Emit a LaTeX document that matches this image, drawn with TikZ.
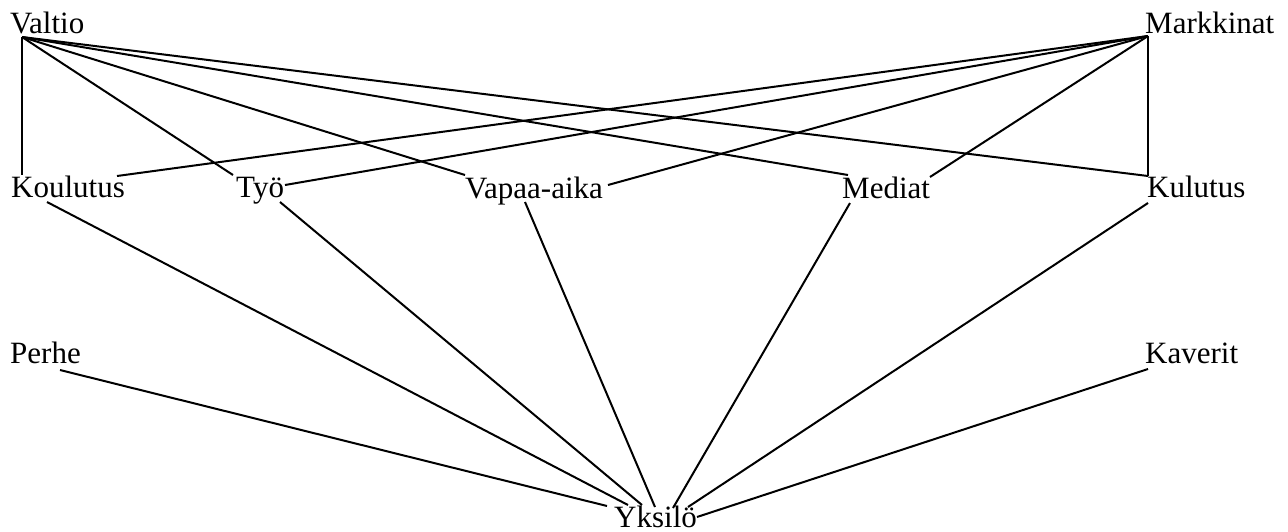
\documentclass[tikz,border=0pt]{standalone}
\usepackage{fontspec}
\setmainfont{Liberation Serif}
\begin{document}
\begin{tikzpicture}[x=1pt,y=-1pt,
  lbl/.style={anchor=base west,inner sep=0pt,font=\fontsize{31}{31}\selectfont},
  link/.style={line width=2pt}]
\useasboundingbox (0,0) rectangle (1288,531);
% labels
\node[lbl] (valtio) at (10,33) {Valtio};
\node[lbl] (markkinat) at (1145,33) {Markkinat};
\node[lbl] (koulutus) at (11,197) {Koulutus};
\node[lbl] (tyo) at (236,197) {Työ};
\node[lbl] (vapaa) at (465,198) {Vapaa-aika};
\node[lbl] (mediat) at (842,198) {Mediat};
\node[lbl] (kulutus) at (1147,197) {Kulutus};
\node[lbl] (perhe) at (10,363) {Perhe};
\node[lbl] (kaverit) at (1145,363) {Kaverit};
\node[lbl] (yksilo) at (614,527) {Yksilö};
% attachment points
\coordinate (valtio-s) at (22,37);
\coordinate (markkinat-s) at (1148,36);
\coordinate (koulutus-n1) at (22,175);
\coordinate (koulutus-n2) at (117,176);
\coordinate (koulutus-s) at (47,202);
\coordinate (tyo-n1) at (233,175);
\coordinate (tyo-n2) at (285,185);
\coordinate (tyo-s) at (280,202);
\coordinate (vapaa-n1) at (465,175);
\coordinate (vapaa-n2) at (608,185);
\coordinate (vapaa-s) at (525,202);
\coordinate (mediat-n1) at (848,175);
\coordinate (mediat-n2) at (930,177);
\coordinate (mediat-s) at (850,203);
\coordinate (kulutus-n) at (1148,176);
\coordinate (kulutus-s) at (1148,203);
\coordinate (perhe-s) at (60,370);
\coordinate (kaverit-s) at (1148,369);
\coordinate (yk1) at (607,506);
\coordinate (yk2) at (628,505);
\coordinate (yk3) at (642,505);
\coordinate (yk4) at (655,507);
\coordinate (yk5) at (673,508);
\coordinate (yk6) at (688,507);
\coordinate (yk7) at (697,517);
% state links
\draw[link] (valtio-s) -- (koulutus-n1);
\draw[link] (valtio-s) -- (tyo-n1);
\draw[link] (valtio-s) -- (vapaa-n1);
\draw[link] (valtio-s) -- (mediat-n1);
\draw[link] (valtio-s) -- (kulutus-n);
% market links
\draw[link] (markkinat-s) -- (koulutus-n2);
\draw[link] (markkinat-s) -- (tyo-n2);
\draw[link] (markkinat-s) -- (vapaa-n2);
\draw[link] (markkinat-s) -- (mediat-n2);
\draw[link] (markkinat-s) -- (kulutus-n);
% links to the individual
\draw[link] (perhe-s) -- (yk1);
\draw[link] (koulutus-s) -- (yk2);
\draw[link] (tyo-s) -- (yk3);
\draw[link] (vapaa-s) -- (yk4);
\draw[link] (mediat-s) -- (yk5);
\draw[link] (kulutus-s) -- (yk6);
\draw[link] (kaverit-s) -- (yk7);
\end{tikzpicture}
\end{document}
